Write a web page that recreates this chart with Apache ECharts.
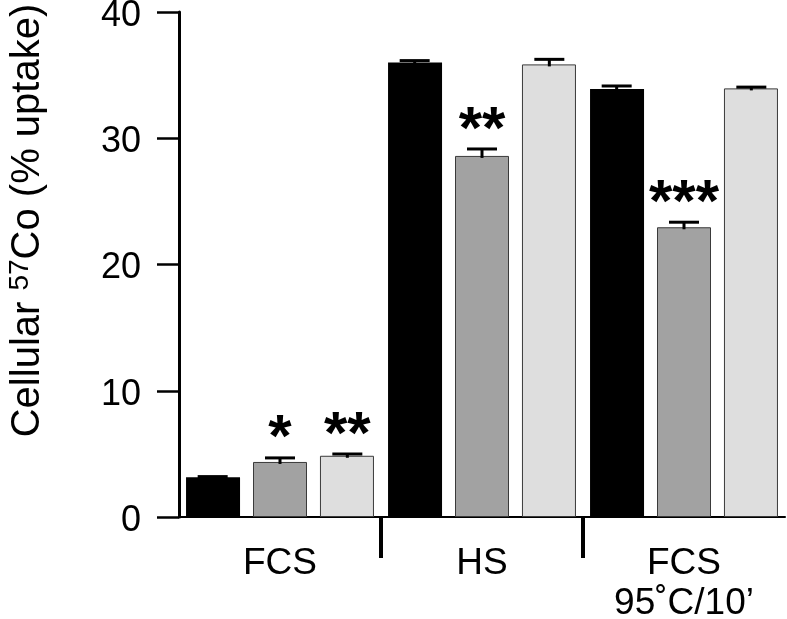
<!DOCTYPE html>
<html><head><meta charset="utf-8">
<script src="https://cdn.jsdelivr.net/npm/echarts@6/dist/echarts.min.js"></script>
<style>html,body{margin:0;padding:0;background:#fff}#c{width:787px;height:619px}</style>
</head><body><div id="c"></div>
<script>
// ---- data ----
const categories = ['FCS', 'HS', 'FCS\n95\u02DAC/10\u2019'];
const valuesBlack = [3.15, 36.0, 33.9];
const valuesGray  = [4.36, 28.6, 22.95];
const valuesLight = [4.85, 35.85, 33.95];
const errBlack = [0.05, 0.15, 0.24];
const errGray  = [0.32, 0.55, 0.4];
const errLight = [0.14, 0.4, 0.1];
const sigBlack = ['', '', ''];
const sigGray  = ['*', '**', '***'];
const sigLight = ['**', '', ''];
const yMin = 0, yMax = 40, yStep = 10;
const dividerCats = [1, 2];

const FONT = 'Liberation Sans, Arial, sans-serif';
const colors = ['#000000', '#a2a2a2', '#dedede'];
const allVals = [valuesBlack, valuesGray, valuesLight];
const allErr = [errBlack, errGray, errLight];
const allSig = [sigBlack, sigGray, sigLight];

const chart = echarts.init(document.getElementById('c'), null, {renderer: 'canvas'});

const barSeries = allVals.map((vals, k) => ({
  type: 'bar',
  data: vals,
  barWidth: 54,
  barGap: '24%',
  itemStyle: {color: colors[k], borderColor: k === 0 ? '#000' : '#3a3a3a', borderWidth: k === 0 ? 0 : 1},
  z: 2
}));

const errSeries = allVals.map((vals, k) => ({
  type: 'custom',
  z: 5,
  data: vals.map((v, i) => [i, v, allErr[k][i]]),
  renderItem: function (params, api) {
    const ci = api.value(0), v = api.value(1), e = api.value(2);
    const sig = allSig[k][params.dataIndex];
    const band = api.size([1, 0])[0];
    const base = api.coord([ci, v]);
    const top = api.coord([ci, v + e]);
    const x = base[0] + (k - 1) * band / 3;
    const children = [
      {type: 'line', shape: {x1: x, y1: base[1] + 2, x2: x, y2: top[1]}, style: {stroke: '#000', lineWidth: 3}},
      {type: 'line', shape: {x1: x - 15, y1: top[1], x2: x + 15, y2: top[1]}, style: {stroke: '#000', lineWidth: 3}}
    ];
    if (sig) {
      children.push({type: 'text', style: {text: sig, x: x, y: top[1] - 18, align: 'center', verticalAlign: 'middle',
        fontSize: 60, fontWeight: 'bold', fontFamily: FONT, fill: '#000'}});
    }
    return {type: 'group', children: children};
  }
}));

const dividerSeries = {
  type: 'custom',
  z: 6,
  clip: false,
  data: dividerCats.map(c => [c, 0]),
  renderItem: function (params, api) {
    const band = api.size([1, 0])[0];
    const p = api.coord([api.value(0), api.value(1)]);
    const x = p[0] - band / 2;
    return {type: 'line', shape: {x1: x, y1: p[1], x2: x, y2: p[1] + 41}, style: {stroke: '#000', lineWidth: 4}};
  }
};

chart.setOption({
  animation: false,
  backgroundColor: '#fff',
  grid: {left: 179, right: 2, top: 12, bottom: 102, containLabel: false, outerBoundsMode: 'none'},
  xAxis: {
    type: 'category',
    data: categories,
    axisLine: {lineStyle: {color: '#000', width: 2}},
    axisTick: {show: false},
    axisLabel: {fontSize: 37, lineHeight: 40, margin: 27, color: '#000', fontFamily: FONT, interval: 0}
  },
  yAxis: {
    type: 'value',
    min: yMin, max: yMax, interval: yStep,
    axisLine: {show: true, lineStyle: {color: '#000', width: 3}},
    axisTick: {show: true, length: 22, lineStyle: {color: '#000', width: 2.5}},
    axisLabel: {
      margin: 38,
      formatter: '{v|{value}}',
      rich: {v: {fontSize: 36, lineHeight: 36, padding: [8, 0, 0, 0], color: '#000', fontFamily: FONT}}
    },
    splitLine: {show: false},
    name: '{a|Cellular }{s|57}{a|Co (% uptake)}',
    nameLocation: 'middle',
    nameGap: 129,
    nameTextStyle: {
      padding: [0, 0, 0, 88],
      rich: {
        a: {fontSize: 40, lineHeight: 44, fontFamily: FONT, color: '#000'},
        s: {fontSize: 28, lineHeight: 28, fontFamily: FONT, color: '#000', verticalAlign: 'top'}
      }
    }
  },
  series: [...barSeries, ...errSeries, dividerSeries]
});
</script>
</body></html>
